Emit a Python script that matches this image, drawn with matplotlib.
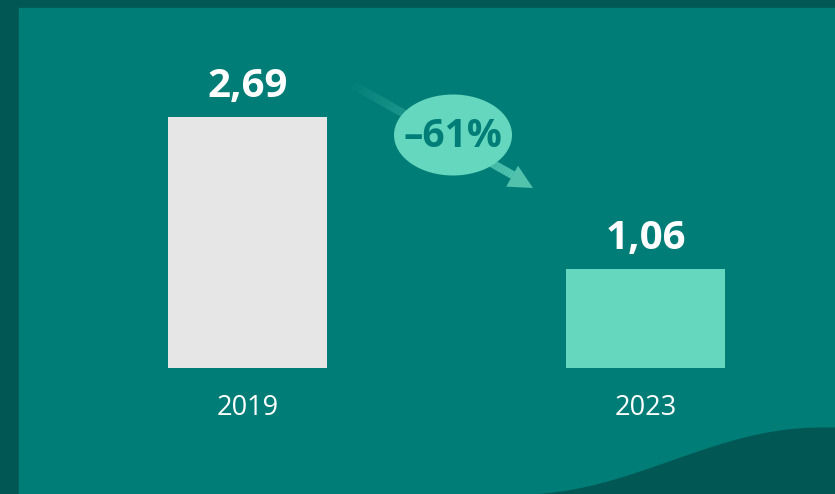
import numpy as np
import matplotlib
matplotlib.use("Agg")
import matplotlib.pyplot as plt
from matplotlib.patches import Ellipse, Rectangle, Polygon

categories = ["2019", "2023"]
values = [2.69, 1.06]
value_labels = ["2,69", "1,06"]
bar_colors = ["#E6E6E6", "#64D7BE"]

W, H = 835, 494
BG = "#007D77"
DARK = "#005753"
LIGHT = "#64D7BE"

plt.rcParams['font.family'] = ['Open Sans', 'DejaVu Sans']

fig = plt.figure(figsize=(W / 100, H / 100), dpi=100)
fig.patch.set_facecolor(DARK)

# background decoration axes in pixel coords (y downward)
bg = fig.add_axes([0, 0, 1, 1])
bg.set_xlim(0, W)
bg.set_ylim(H, 0)
bg.axis("off")
bg.add_patch(Rectangle((19, 8), W - 19, H - 8, color=BG, zorder=0))
# wave bottom right
xs = np.linspace(520, W, 200)
t = (xs - 520) / (W - 520)
ys = 494 - 67 * (0.5 - 0.5 * np.cos(np.pi * np.clip(t * 1.05, 0, 1)))
bg.fill_between(xs, ys, H, color=DARK, zorder=1, lw=0)

# gradient arrow
x0, y0, x1, y1 = 353, 85, 518, 178
n = 60
for i in range(n):
    a = i / n
    b = (i + 1) / n
    bg.plot([x0 + (x1 - x0) * a, x0 + (x1 - x0) * b],
            [y0 + (y1 - y0) * a, y0 + (y1 - y0) * b],
            color=LIGHT, alpha=min(1, 0.03 + 0.8 * a), lw=6,
            solid_capstyle="butt", zorder=2)
d = np.array([x1 - x0, y1 - y0], float)
d /= np.linalg.norm(d)
nrm = np.array([-d[1], d[0]])
tip = np.array([533, 188])
base = tip - d * 24
head = Polygon([tip, base + nrm * 12, base - nrm * 12], closed=True,
               color="#52C2AD", lw=0, zorder=3)
bg.add_patch(head)

# data axes
ax = fig.add_axes([19 / W, (H - 368) / H, (W - 19) / W, 360 / H])
ax.set_facecolor("none")
ppu = 251 / 2.69
ax.set_ylim(0, 360 / ppu)
ax.set_xlim(-(247.5 - 19) / 398, 1 + (835 - 645.5) / 398)
ax.axis("off")
x = np.arange(len(categories))
ax.bar(x, values, width=159 / 398, color=bar_colors, zorder=3)
for xi, v, lab, cat in zip(x, values, value_labels, categories):
    ax.annotate(lab, (xi, v), xytext=(0, 14.5), textcoords="offset points",
                ha="center", va="baseline", color="white", fontsize=29,
                fontweight="bold")
    ax.annotate(cat, (xi, 0), xytext=(0, -34), textcoords="offset points",
                ha="center", va="baseline", color="white", fontsize=19.5)

pct = round((values[1] - values[0]) / values[0] * 100)
bg.add_patch(Ellipse((453, 135), 118, 81, color=LIGHT, lw=0, zorder=4))
bg.text(453, 136, f"\u2013{abs(pct)}%", ha="center", va="center",
        color=BG, fontsize=28, fontweight="bold", zorder=5)

fig.savefig("out.png", dpi=100, facecolor=fig.get_facecolor())
